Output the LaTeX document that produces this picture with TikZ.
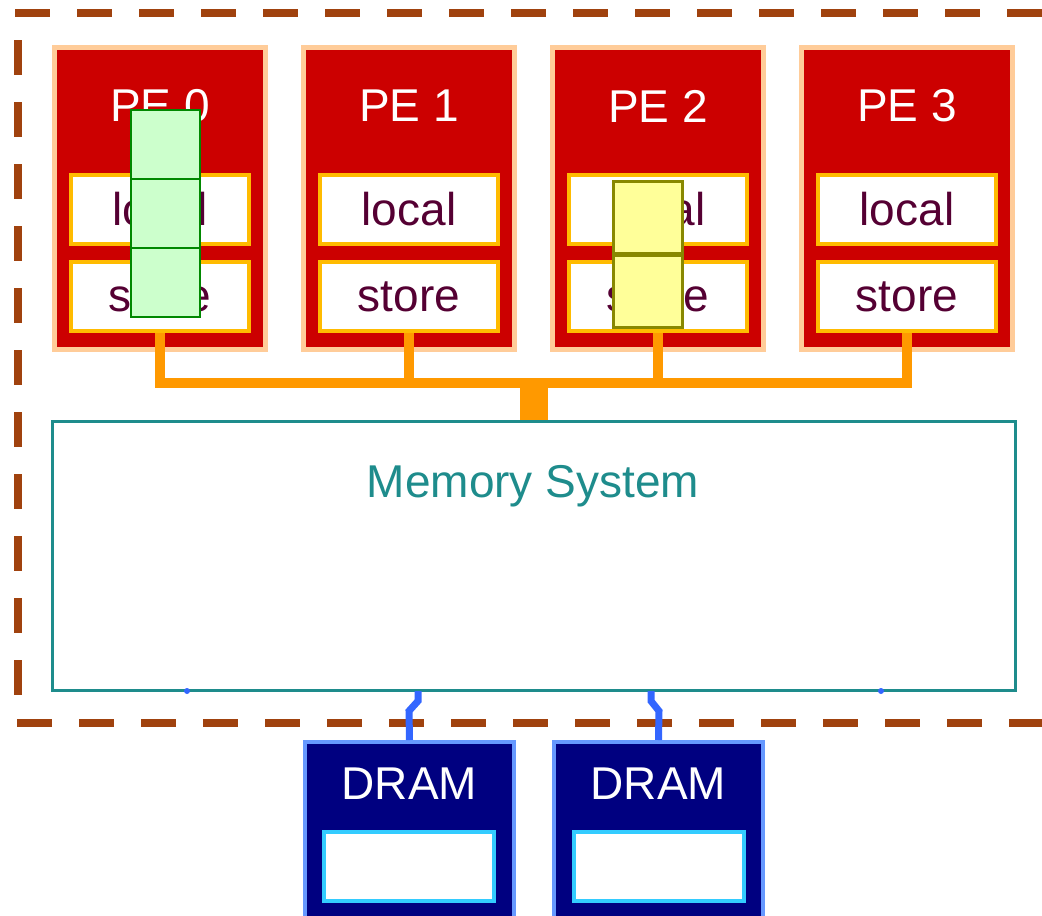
\documentclass[tikz,border=0pt]{standalone}
\usepackage{fontspec}
\setmainfont{Liberation Sans}
\definecolor{peach}{HTML}{FFCC99}
\definecolor{pered}{HTML}{CC0000}
\definecolor{lsborder}{HTML}{FFBB00}
\definecolor{maroon}{HTML}{550033}
\definecolor{busorange}{HTML}{FF9900}
\definecolor{memteal}{HTML}{1E8C8C}
\definecolor{connblue}{HTML}{3366FF}
\definecolor{navy}{HTML}{000080}
\definecolor{drborder}{HTML}{6699FF}
\definecolor{drinner}{HTML}{33CCFF}
\definecolor{gfill}{HTML}{CCFFCC}
\definecolor{gline}{HTML}{008800}
\definecolor{yfill}{HTML}{FFFF99}
\definecolor{yline}{HTML}{888800}
\definecolor{frame}{HTML}{A0420E}
\tikzset{
  big/.style={font=\fontsize{46}{50}\selectfont},
  pebox/.style={draw=peach, line width=5pt, fill=pered, minimum width=211pt, minimum height=302pt, inner sep=0pt},
  pelabel/.style={big, text=white, inner sep=0pt},
  lsbox/.style={draw=lsborder, line width=4pt, fill=white, minimum width=178pt, minimum height=69pt, inner sep=0pt, big, text=maroon},
  bus/.style={draw=busorange, line width=10pt},
  membox/.style={draw=memteal, line width=3pt, minimum width=963pt, minimum height=269pt, inner sep=0pt},
  memlabel/.style={big, text=memteal, inner sep=0pt},
  blueline/.style={draw=connblue, line width=7pt},
  drambox/.style={draw=drborder, line width=4pt, fill=navy, minimum width=209pt, minimum height=260pt, inner sep=0pt},
  dramlabel/.style={big, text=white, inner sep=0pt},
  draminner/.style={draw=drinner, line width=4pt, fill=white, minimum width=170pt, minimum height=69pt, inner sep=0pt},
  gcell/.style={draw=gline, line width=2.5pt, fill=gfill, minimum width=69pt, minimum height=69pt, inner sep=0pt},
  ycell/.style={draw=yline, line width=3pt, fill=yfill, minimum width=69pt, minimum height=72pt, inner sep=0pt},
  dashframe/.style={draw=frame, line width=8pt, dash pattern=on 35pt off 27pt},
}
\begin{document}
\begin{tikzpicture}[x=1pt,y=-1pt]
\useasboundingbox[fill=white] (0,0) rectangle (1042,916);
% frame
\draw[dashframe] (15,13) -- (1042,13);
\draw[dashframe] (18,40) -- (18,700);
\draw[dashframe] (17,723) -- (1042,723);
% PEs
\foreach \i/\x in {0/160,1/409,2/658,3/907}{
  \node[pebox] (pe\i) at (\x,198.5) {};
  \node[pelabel] (pl\i) at (\x,106) {PE \i};
  \node[lsbox] (lo\i) at (\x,209.5) {local};
  \node[lsbox] (st\i) at (\x,296.5) {store};
  \coordinate (b\i) at (\x,383);
}
% memory
\node[membox] (mem) at (533.5,555.5) {};
\node[memlabel] (memlab) at (533,486) {Memory System};
% bus
\draw[bus] ([xshift=-5pt]b0) -- ([xshift=5pt]b3);
\foreach \i in {0,1,2,3}{ \draw[bus] (st\i.south) -- (b\i); }
\coordinate (bc) at (533.5,378);
\draw[draw=busorange, line width=28pt] (bc) -- (mem.north);
% DRAMs
\node[drambox] (d1) at (409.5,872) {};
\node[drambox] (d2) at (658.5,872) {};
\node[dramlabel] (dl1) at (409.5,784) {DRAM};
\node[dramlabel] (dl2) at (658.5,784) {DRAM};
\node[draminner] (di1) at (409,866.5) {};
\node[draminner] (di2) at (658.5,866.5) {};
% memory-DRAM links
\coordinate (m1) at (418,691);
\coordinate (m2) at (651,691);
\draw[blueline] (m1) -- ++(0,10) -- ++(-9,10) -- (d1.north);
\draw[blueline] (m2) -- ++(0,10) -- ++(8,10) -- (d2.north);
\coordinate (t1) at (187,691);
\coordinate (t2) at (881,691);
\fill[connblue] (t1) circle (3pt);
\fill[connblue] (t2) circle (3pt);
% green stack
\node[gcell] (g1) at (165.5,144.5) {};
\node[gcell] (g2) at (165.5,213.5) {};
\node[gcell] (g3) at (165.5,282.5) {};
% yellow stack
\node[ycell] (y1) at (648,217.5) {};
\node[ycell] (y2) at (648,291) {};
\end{tikzpicture}
\end{document}
